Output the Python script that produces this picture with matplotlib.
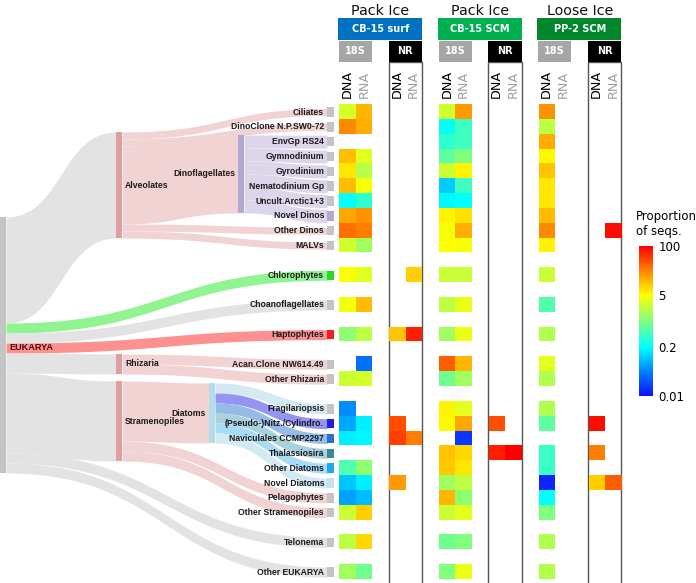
import numpy as np
import matplotlib
matplotlib.use('Agg')
import matplotlib.pyplot as plt
from matplotlib.colors import LinearSegmentedColormap, LogNorm
from matplotlib.patches import Rectangle
from matplotlib.ticker import NullLocator

nan = np.nan

# leaf taxa top to bottom, the row slot each sits in, its parent and flow size
taxa = ['Ciliates', 'DinoClone N.P.SW0-72', 'EnvGp RS24', 'Gymnodinium', 'Gyrodinium',
        'Nematodinium Gp', 'Uncult.Arctic1+3', 'Novel Dinos', 'Other Dinos', 'MALVs',
        'Chlorophytes', 'Choanoflagellates', 'Haptophytes', 'Acan.Clone NW614.49',
        'Other Rhizaria', 'Fragilariopsis', '(Pseudo-)Nitz./Cylindro.', 'Naviculales CCMP2297',
        'Thalassiosira', 'Other Diatoms', 'Novel Diatoms', 'Pelagophytes',
        'Other Stramenopiles', 'Telonema', 'Other EUKARYA']
slots = [0, 1, 2, 3, 4, 5, 6, 7, 8, 9, 11, 13, 15, 17, 18, 20, 21, 22, 23, 24, 25, 26, 27, 29, 31]
taxa_parent = (['Alveolates', 'Alveolates'] + ['Dinoflagellates'] * 6 +
               ['Alveolates', 'Alveolates', 'EUKARYA', 'EUKARYA', 'EUKARYA', 'Rhizaria', 'Rhizaria'] +
               ['Diatoms'] * 6 + ['Stramenopiles', 'Stramenopiles', 'EUKARYA', 'EUKARYA'])
taxa_weight = [7, 7, 13, 13, 13, 13, 13, 13, 7, 7, 10, 10, 10, 10, 10,
               10, 10, 10, 10, 10, 10, 10, 10, 10, 10]
group_parent = {'Alveolates': 'EUKARYA', 'Rhizaria': 'EUKARYA', 'Stramenopiles': 'EUKARYA',
                'Dinoflagellates': 'Alveolates', 'Diatoms': 'Stramenopiles'}

# proportion of sequences (%) per taxon
surf_18s_dna = [3.0, 20, nan, 10.5, 6.6, 10.8, 0.21, 14, 27, 2.8, 4.7, 4.3, 1.2, nan, 2.6,
                0.052, 0.07, 0.17, nan, 0.55, 0.1, 0.065, 2.6, 2.2, 1.5]
surf_18s_rna = [11.7, 13, nan, 3.4, 2.0, 4.4, 0.36, 18, 23, 1.5, 3.4, 10.8, 2.2, 0.036, 3.0,
                nan, 0.17, 0.19, nan, 1.2, 0.17, 0.093, 8.8, 8, 0.82]
surf_nr_dna = [nan, nan, nan, nan, nan, nan, nan, nan, nan, nan, nan, nan, 10, nan, nan,
               nan, 40, 48, nan, nan, 16, nan, nan, nan, nan]
surf_nr_rna = [nan, nan, nan, nan, nan, nan, nan, nan, nan, nan, 8.8, nan, 69, nan, nan,
               nan, nan, 23, nan, nan, nan, nan, nan, nan, nan]
scm_18s_dna = [2.8, 0.21, 0.36, 0.67, 2.6, 0.11, 0.19, 5.7, 4.4, 5, 2.5, 2.2, 1.5, 33, 0.82,
               5.7, 5.3, nan, 10, 9.4, 1.5, 11.7, 2.6, 0.82, 1.0]
scm_18s_rna = [16, 0.45, 0.45, 1.0, 5.7, 0.45, 0.2, 7, 13, 4.4, 2.5, 3.8, 3.8, 11.7, 1.5,
               3.4, 14, 0.017, 8, 6.6, 2.2, 1.2, 3.4, 1.0, 3.8]
scm_nr_dna = [nan, nan, nan, nan, nan, nan, nan, nan, nan, nan, nan, nan, nan, nan, nan,
              nan, 40, nan, 69, nan, nan, nan, nan, nan, nan]
scm_nr_rna = [nan, nan, nan, nan, nan, nan, nan, nan, nan, nan, nan, nan, nan, nan, nan,
              nan, nan, nan, 100, nan, nan, nan, nan, nan, nan]
pp2_18s_dna = [18, 2.2, 13, 5.4, 10, 6.6, 6.6, 10.8, 20, 5.7, 2.5, 0.55, 1.9, 3.4, 1.9,
               1.9, 0.67, nan, 0.42, 0.42, 0.013, 0.2, 1.0, 1.9, 1.9]
pp2_18s_rna = [nan] * 25
pp2_nr_dna = [nan, nan, nan, nan, nan, nan, nan, nan, nan, nan, nan, nan, nan, nan, nan,
              nan, 85, nan, 23, nan, 8.8, nan, nan, nan, nan]
pp2_nr_rna = [nan, nan, nan, nan, nan, nan, nan, nan, 85, nan, nan, nan, nan, nan, nan,
              nan, nan, nan, nan, nan, 33, nan, nan, nan, nan]

blocks = ['CB-15 surf', 'CB-15 SCM', 'PP-2 SCM']
block_ice = ['Pack Ice', 'Pack Ice', 'Loose Ice']
block_data = [[surf_18s_dna, surf_18s_rna, surf_nr_dna, surf_nr_rna],
              [scm_18s_dna, scm_18s_rna, scm_nr_dna, scm_nr_rna],
              [pp2_18s_dna, pp2_18s_rna, pp2_nr_dna, pp2_nr_rna]]
cbar_ticks = [0.01, 0.2, 5, 100]

# ---- layout / style ----
block_colors = ['#0070C0', '#00B050', '#00882A']
X0, CW = 339, 16.6          # heatmap left edge, cell width
Y0, RH = 104.6, 14.84       # heatmap top edge, row pitch
NSLOT = 32
node_x = {'EUKARYA': 0, 'Alveolates': 116, 'Rhizaria': 116, 'Stramenopiles': 116,
          'Dinoflagellates': 238, 'Diatoms': 209}
node_top = {'EUKARYA': 217, 'Alveolates': 132, 'Rhizaria': 354, 'Stramenopiles': 381,
            'Dinoflagellates': 135, 'Diatoms': 383}
node_color = {'EUKARYA': '#C4C4C4', 'Alveolates': '#DDA0A0', 'Rhizaria': '#DDA0A0',
              'Stramenopiles': '#DDA0A0', 'Dinoflagellates': '#B4A8D0', 'Diatoms': '#B4DCEA'}
flow_color = {'EUKARYA': '#E3E3E3', 'Alveolates': '#F2D3D3', 'Rhizaria': '#F2D3D3',
              'Stramenopiles': '#F2D3D3', 'Dinoflagellates': '#DDD6EB', 'Diatoms': '#D3EAF3'}
band_color = {'Chlorophytes': '#90F490', 'Haptophytes': '#FF9090',
              '(Pseudo-)Nitz./Cylindro.': '#9494F2', 'Naviculales CCMP2297': '#94BCE6',
              'Thalassiosira': '#A8D2DE', 'Other Diatoms': '#A8DCF4'}
marker_color = {'Chlorophytes': '#22DD22', 'Haptophytes': '#EE2020', 'Novel Dinos': '#B4A8D4',
                '(Pseudo-)Nitz./Cylindro.': '#2020DD', 'Naviculales CCMP2297': '#2A70C4',
                'Thalassiosira': '#3A8898', 'Other Diatoms': '#20A8EE', 'Novel Diatoms': '#C4E2F0'}
NODE_W = 6
LEAF_X = 327
LAB = dict(family=['Liberation Sans', 'DejaVu Sans'], fontweight='bold', fontsize=6.2,
           color='#1A1A1A')

cmap = LinearSegmentedColormap.from_list('prop', [(0, '#1010FF'), (0.16, '#0080FF'),
                                                  (0.325, '#00FFFF'), (0.5, '#80FF80'),
                                                  (0.675, '#FFFF00'), (0.84, '#FF8000'),
                                                  (1, '#FF0000')])
norm = LogNorm(0.01, 100)

fig = plt.figure(figsize=(6.96, 5.83), dpi=100)
ax = fig.add_axes([0, 0, 1, 1])
ax.axis('off')


def row_y(s):
    return Y0 + (s + 0.5) * RH


def band(xa, xb, a0, a1, b0, b1, color):
    t = np.linspace(0, 1, 80)
    xm = (xa + xb) / 2
    x = (1 - t) ** 3 * xa + 3 * (1 - t) ** 2 * t * xm + 3 * (1 - t) * t ** 2 * xm + t ** 3 * xb
    s = 3 * t ** 2 - 2 * t ** 3
    ax.fill_between(x, a0 + (b0 - a0) * s, a1 + (b1 - a1) * s, color=color, lw=0, zorder=1)


# ---- tree (sankey) ----
children = {}
for i, p in enumerate(taxa_parent):
    children.setdefault(p, []).append(i)
for g, p in group_parent.items():
    children.setdefault(p, []).append(g)


def top_slot(item):
    if isinstance(item, int):
        return slots[item]
    return min(top_slot(c) for c in children[item])


def weight(item):
    if isinstance(item, int):
        return taxa_weight[item]
    return sum(weight(c) for c in children[item])


for p in children:
    children[p].sort(key=top_slot)

root_pos = {}
for p, kids in children.items():
    y = node_top[p]
    xa = node_x[p] + NODE_W
    for k in kids:
        w = weight(k)
        if isinstance(k, int):
            c = row_y(slots[k])
            b0, b1, xb = c - w / 2, c + w / 2, LEAF_X
            col = band_color.get(taxa[k], flow_color[p])
            if p == 'EUKARYA':
                root_pos[taxa[k]] = y + w / 2
        else:
            b0, xb = node_top[k], node_x[k]
            b1 = b0 + w
            col = flow_color[p]
        band(xa, xb, y, y + w, b0, b1, col)
        y += w

for n in node_x:
    ax.add_patch(Rectangle((node_x[n], node_top[n]), NODE_W, weight(n),
                           color=node_color[n], lw=0, zorder=3))

for n in ['Alveolates', 'Rhizaria', 'Stramenopiles']:
    ax.text(node_x[n] + NODE_W + 3, node_top[n] + weight(n) / 2, n,
            ha='left', va='center', zorder=4, **LAB)
for n in ['Dinoflagellates', 'Diatoms']:
    ax.text(node_x[n] - 3, node_top[n] + weight(n) / 2, n,
            ha='right', va='center', zorder=4, **LAB)
ax.text(9, root_pos['Haptophytes'], 'EUKARYA', ha='left', va='center', zorder=4,
        **{**LAB, 'color': '#4A0A0A', 'fontsize': 6.6})

for i, name in enumerate(taxa):
    yc = row_y(slots[i])
    ax.add_patch(Rectangle((LEAF_X, yc - 4.75), 7, 9.5, color=marker_color.get(name, '#C4C4C4'),
                           lw=0, zorder=3))
    ax.text(LEAF_X - 3, yc, name, ha='right', va='center', zorder=4, **LAB)

# ---- headers and NR boxes ----
for b, name in enumerate(blocks):
    bx = X0 + 6 * b * CW
    ax.text(bx + 2.5 * CW, 11, block_ice[b], ha='center', va='center', fontsize=10.3,
            family='DejaVu Sans', color='#111111')
    ax.add_patch(Rectangle((bx - 1, 18), 5 * CW + 1, 22, color=block_colors[b], lw=0))
    ax.text(bx + 2.5 * CW, 29, name, ha='center', va='center', fontsize=7, color='white',
            family='DejaVu Sans', fontweight='bold')
    ax.add_patch(Rectangle((bx, 41), 2 * CW, 21, color='#A6A6A6', lw=0))
    ax.text(bx + CW, 51.5, '18S', ha='center', va='center', fontsize=7, color='white',
            family='DejaVu Sans', fontweight='bold')
    ax.add_patch(Rectangle((bx + 3 * CW, 62), 2 * CW, 530, fc='white', ec='#555555',
                           lw=1.0, zorder=1.5))
    ax.add_patch(Rectangle((bx + 3 * CW, 41), 2 * CW, 21, color='black', lw=0, zorder=2))
    ax.text(bx + 4 * CW, 51.5, 'NR', ha='center', va='center', fontsize=7, color='white',
            family='DejaVu Sans', fontweight='bold', zorder=3)
    for c in [0, 1, 3, 4]:
        ax.text(bx + (c + 0.5) * CW, 84, 'DNA' if c in (0, 3) else 'RNA', rotation=90,
                ha='center', va='center', fontsize=9.2, family='DejaVu Sans',
                color='black' if c in (0, 3) else '#A0A0A0', zorder=3)

# ---- heatmap ----
grid = np.full((NSLOT, 17), nan)
for b, cols in enumerate(block_data):
    for c, vals in zip([0, 1, 3, 4], cols):
        for i, v in enumerate(vals):
            grid[slots[i], 6 * b + c] = v
im = ax.imshow(np.ma.masked_invalid(grid), cmap=cmap, norm=norm, interpolation='nearest',
               extent=(X0, X0 + 17 * CW, Y0 + NSLOT * RH, Y0), aspect='auto', zorder=2.5)

ax.set_xlim(0, 696)
ax.set_ylim(583, 0)

# ---- colour bar ----
cax = fig.add_axes([639 / 696, 1 - 396 / 583, 14 / 696, 150 / 583])
cb = fig.colorbar(im, cax=cax)
cb.outline.set_visible(False)
cb.set_ticks(cbar_ticks)
cb.set_ticklabels(['0.01', '0.2', '5', '100'])
cax.yaxis.set_minor_locator(NullLocator())
cax.tick_params(length=0, labelsize=8.5, pad=4)
ax.text(636, 224, 'Proportion\nof seqs.', ha='left', va='center', fontsize=8.5,
        family='DejaVu Sans', linespacing=1.15)

fig.savefig('out.png', dpi=100)
